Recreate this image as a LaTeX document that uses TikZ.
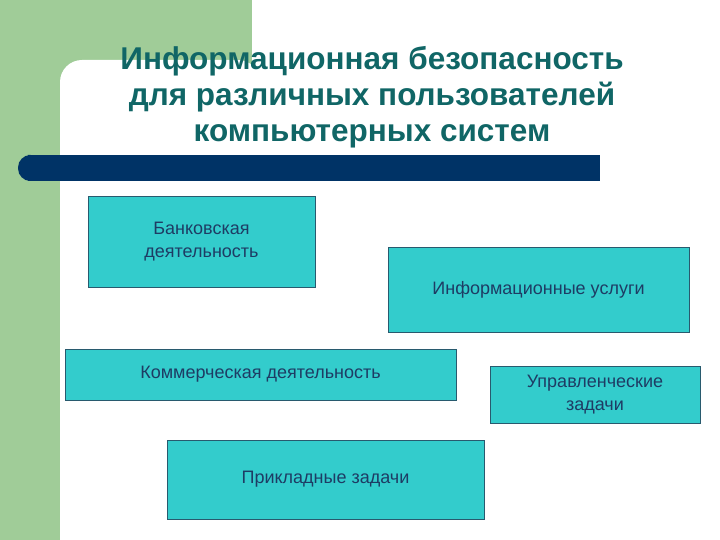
\documentclass[tikz,border=0pt]{standalone}
\usepackage{fontspec}
\setmainfont{Liberation Sans}
\definecolor{bggreen}{RGB}{160,204,152}
\definecolor{barblue}{RGB}{0,51,102}
\definecolor{titleteal}{RGB}{16,102,102}
\definecolor{boxfill}{RGB}{51,204,204}
\definecolor{boxline}{RGB}{40,90,110}
\definecolor{boxtext}{RGB}{30,60,100}
\begin{document}
\begin{tikzpicture}[x=1pt,y=-1pt,
  tbox/.style={draw=boxline,line width=0.8pt,fill=boxfill,text=boxtext,
    font=\fontsize{18}{23}\selectfont,align=center,inner sep=0pt}]
\useasboundingbox (0,0) rectangle (720,540);
\fill[white] (0,0) rectangle (720,540);
\fill[bggreen] (0,0) rectangle (252,100);
\fill[bggreen] (0,0) rectangle (60,540);
\fill[white,rounded corners=22pt] (60,60) rectangle (260,200);
\fill[white] (252,0) rectangle (720,60);
\fill[white] (60,120) rectangle (252,540);
\fill[barblue,rounded corners=12.5pt] (18,155) rectangle (40,181);
\fill[barblue] (30,155) rectangle (600,181);
\node[text=titleteal,font=\bfseries\fontsize{31.5}{36}\selectfont,align=center] (title) at (372,97)
  {Информационная безопасность\\для различных пользователей\\компьютерных систем};
\node[tbox,minimum width=227pt,minimum height=91pt] (bank) at (201.5,241.5) {Банковская\\деятельность};
\node[tbox,minimum width=301pt,minimum height=85pt] (info) at (538.5,289.5) {Информационные услуги};
\node[tbox,minimum width=391pt,minimum height=51pt] (comm) at (260.5,374.5) {Коммерческая деятельность};
\node[tbox,minimum width=210pt,minimum height=57pt] (mgmt) at (595,394.5) {Управленческие\\задачи};
\node[tbox,minimum width=317pt,minimum height=79pt] (appl) at (325.5,479.5) {Прикладные задачи};
\end{tikzpicture}
\end{document}
